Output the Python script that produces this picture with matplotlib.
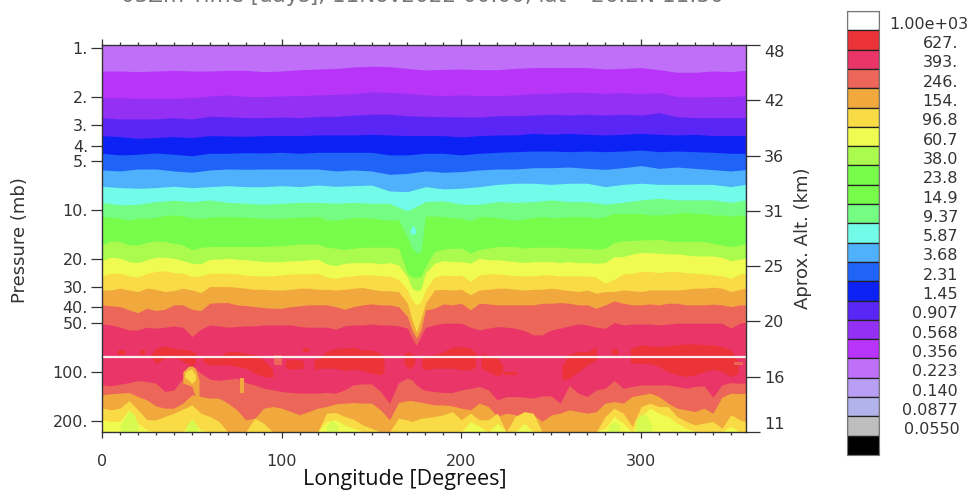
import numpy as np
import matplotlib
matplotlib.use("Agg")
import matplotlib.pyplot as plt

W, H = 970, 491

# longitude grids (deg) for the contour edges
LON_C = [0, 10, 20, 30, 40, 50, 60, 70, 80, 90, 100, 110, 120, 130, 140, 150, 160, 170, 180,
         190, 200, 210, 220, 230, 240, 250, 260, 270, 280, 290, 300, 310, 320, 330, 340, 350, 358]
LON_F = [0, 5, 10, 15, 20, 25, 30, 35, 40, 45, 50, 55, 60, 65, 70, 75, 80, 85, 90, 95, 100, 105, 110, 115, 120,
         125, 130, 135, 140, 145, 150, 155, 160, 165, 170,
         172.5, 175, 177.5,
         180, 185, 190, 195, 200, 205, 210, 215, 220, 225, 230, 235, 240,
         245, 250, 255, 260, 265, 270, 275, 280, 285, 290, 295, 300, 305, 310, 315, 320, 325, 330, 335, 340, 345,
         350, 355, 358]

# log10(pressure in mb) of each colour edge, top of the plot downwards
EDGE_01 = [.142, .142, .146, .142, .138, .142, .142, .138, .138, .146, .142, .134, .130, .126, .117, .113, .115, .126, .136,
           .132, .130, .134, .134, .126, .121, .121, .121, .121, .130, .126, .121, .134, .150, .150, .142, .146, .138]
EDGE_02 = [.307, .307, .311, .311, .311, .307, .296, .290, .300, .300, .296, .294, .290, .286, .282, .270, .274, .280, .290,
           .294, .290, .294, .294, .290, .282, .280, .274, .274, .280, .276, .282, .276, .300, .302, .300, .300, .294]
EDGE_03 = [.430, .438, .438, .438, .430, .438, .422, .424, .430, .430, .426, .430, .422, .422, .414, .409, .409, .418, .422,
           .424, .426, .426, .418, .418, .414, .409, .414, .409, .414, .409, .414, .399, .424, .430, .430, .430, .430]
EDGE_04 = [.541, .547, .558, .553, .547, .553, .541, .543, .545, .541, .541, .541, .537, .537, .537, .533, .537, .541, .541,
           .541, .549, .541, .537, .537, .527, .533, .527, .533, .537, .533, .527, .533, .537, .533, .541, .541, .541]
EDGE_05 = [.650, .660, .656, .648, .656, .665, .650, .650, .646, .648, .644, .650, .644, .644, .644, .644, .660, .660, .650,
           .650, .660, .650, .644, .640, .636, .636, .640, .636, .640, .636, .630, .640, .636, .640, .644, .650, .650]
EDGE_06 = [.753, .759, .747, .747, .759, .767, .753, .747, .749, .747, .747, .747, .747, .759, .753, .759, .780, .774, .759,
           .767, .763, .753, .747, .747, .739, .739, .735, .743, .749, .739, .726, .743, .735, .743, .751, .759, .751]
EDGE_07 = [.854, .862, .866, .862, .854, .862, .856, .850, .856, .856, .850, .856, .846, .854, .850, .846, .883, .887, .856,
           .870, .866, .856, .842, .835, .835, .842, .835, .835, .856, .842, .835, .842, .842, .842, .842, .856, .842]
EDGE_08 = [.953, .969, .965, .949, .940, .949, .938, .953, .959, .965, .959, .953, .953, .959, .953, .959, .959, 1.006, .949,
           .944, .965, .965, .949, .953, .949, .938, .949, .949, .965, .953, .938, .928, .938, .938, .938, .953, .938]
EDGE_09 = [1.041, 1.045, 1.051, 1.062, 1.051, 1.051, 1.045, 1.035, 1.031, 1.035, 1.051, 1.051, 1.045, 1.041, 1.041, 1.043,
           1.045, 1.047, 1.051, 1.055, 1.051, 1.047, 1.045, 1.043, 1.039,
           1.062, 1.062, 1.055, 1.047, 1.047, 1.049, 1.058, 1.062, 1.062, 1.167,
           1.235, 1.265, 1.259,
           1.037, 1.037, 1.041, 1.047, 1.051, 1.068, 1.041, 1.043, 1.047, 1.055, 1.062, 1.055, 1.047,
           1.041, 1.047, 1.047, 1.041, 1.041, 1.041, 1.051, 1.041, 1.021, 1.021, 1.021, 1.021, 1.031, 1.031, 1.027,
           1.021, 1.014, 1.021, 1.021, 1.031, 1.031, 1.039, 1.031, 1.035]
EDGE_10 = [1.216, 1.191, 1.195, 1.216, 1.216, 1.201, 1.191, 1.195, 1.206, 1.216, 1.247, 1.230, 1.226, 1.226, 1.226, 1.226,
           1.226, 1.226, 1.226, 1.222, 1.222, 1.216, 1.210, 1.210, 1.210,
           1.230, 1.236, 1.243, 1.236, 1.230, 1.230, 1.230, 1.230, 1.236, 1.391,
           1.415, 1.415, 1.411,
           1.350, 1.257, 1.243, 1.236, 1.236, 1.267, 1.243, 1.236, 1.226, 1.226, 1.226, 1.236, 1.230,
           1.230, 1.230, 1.230, 1.236, 1.236, 1.236, 1.243, 1.236, 1.201, 1.191, 1.189, 1.185, 1.185, 1.181, 1.191,
           1.195, 1.195, 1.195, 1.195, 1.206, 1.216, 1.226, 1.216, 1.210]
EDGE_11 = [1.313, 1.292, 1.298, 1.319, 1.325, 1.308, 1.292, 1.292, 1.298, 1.313, 1.329, 1.333, 1.304, 1.304, 1.298, 1.304,
           1.308, 1.313, 1.319, 1.319, 1.319, 1.313, 1.313, 1.308, 1.304,
           1.333, 1.345, 1.329, 1.325, 1.325, 1.325, 1.333, 1.325, 1.339, 1.415,
           1.483, 1.498, 1.490,
           1.391, 1.329, 1.313, 1.319, 1.319, 1.329, 1.298, 1.308, 1.308, 1.313, 1.319, 1.325, 1.319,
           1.319, 1.319, 1.325, 1.319, 1.325, 1.325, 1.329, 1.325, 1.288, 1.288, 1.271, 1.263, 1.263, 1.267, 1.271,
           1.271, 1.278, 1.284, 1.284, 1.284, 1.292, 1.313, 1.304, 1.298]
EDGE_12 = [1.407, 1.391, 1.391, 1.407, 1.415, 1.391, 1.380, 1.376, 1.387, 1.391, 1.411, 1.407, 1.391, 1.391, 1.391, 1.395,
           1.403, 1.407, 1.407, 1.407, 1.401, 1.395, 1.395, 1.395, 1.391,
           1.415, 1.422, 1.411, 1.407, 1.401, 1.401, 1.407, 1.407, 1.428, 1.494,
           1.555, 1.586, 1.566,
           1.494, 1.415, 1.401, 1.407, 1.401, 1.442, 1.401, 1.395, 1.395, 1.401, 1.407, 1.407, 1.407,
           1.401, 1.401, 1.407, 1.407, 1.407, 1.407, 1.415, 1.453, 1.428, 1.395, 1.391, 1.380, 1.380, 1.387, 1.380,
           1.380, 1.387, 1.391, 1.395, 1.401, 1.407, 1.422, 1.395, 1.391]
EDGE_13 = [1.494, 1.494, 1.483, 1.494, 1.504, 1.483, 1.490, 1.504, 1.498, 1.483, 1.494, 1.510, 1.473, 1.473, 1.473, 1.477,
           1.483, 1.490, 1.490, 1.494, 1.494, 1.490, 1.483, 1.483, 1.490,
           1.490, 1.494, 1.490, 1.483, 1.479, 1.490, 1.498, 1.498, 1.504, 1.576,
           1.679, 1.755, 1.669,
           1.576, 1.494, 1.490, 1.494, 1.490, 1.524, 1.494, 1.490, 1.483, 1.483, 1.490, 1.494, 1.490,
           1.490, 1.483, 1.490, 1.498, 1.504, 1.494, 1.514, 1.504, 1.504, 1.494, 1.498, 1.504, 1.494, 1.494, 1.494,
           1.494, 1.490, 1.483, 1.483, 1.477, 1.483, 1.504, 1.490, 1.483]
EDGE_14 = [1.586, 1.592, 1.597, 1.617, 1.634, 1.607, 1.621, 1.613, 1.586, 1.586, 1.613, 1.621, 1.576, 1.572, 1.572, 1.586,
           1.590, 1.597, 1.603, 1.607, 1.607, 1.597, 1.592, 1.586, 1.586,
           1.586, 1.597, 1.613, 1.597, 1.586, 1.580, 1.586, 1.586, 1.597, 1.658,
           1.741, 1.790, 1.741,
           1.617, 1.607, 1.580, 1.586, 1.576, 1.617, 1.576, 1.580, 1.586, 1.586, 1.586, 1.586, 1.586,
           1.576, 1.576, 1.572, 1.576, 1.586, 1.586, 1.607, 1.586, 1.562, 1.576, 1.586, 1.586, 1.580, 1.586, 1.576,
           1.576, 1.586, 1.586, 1.586, 1.582, 1.586, 1.597, 1.586, 1.586]
EDGE_15 = [1.704, 1.710, 1.724, 1.741, 1.741, 1.724, 1.730, 1.724, 1.716, 1.724, 1.782, 1.736, 1.710, 1.716, 1.724, 1.720,
           1.716, 1.716, 1.710, 1.710, 1.710, 1.710, 1.720, 1.724, 1.724,
           1.724, 1.736, 1.716, 1.710, 1.710, 1.704, 1.710, 1.710, 1.716, 1.730,
           1.792, 1.835, 1.782,
           1.724, 1.710, 1.699, 1.699, 1.699, 1.724, 1.741, 1.730, 1.720, 1.724, 1.730, 1.745, 1.771,
           1.771, 1.741, 1.730, 1.716, 1.704, 1.710, 1.724, 1.730, 1.695, 1.710, 1.704, 1.704, 1.704, 1.710, 1.704,
           1.699, 1.699, 1.699, 1.699, 1.699, 1.699, 1.730, 1.699, 1.695]
EDGE_16 = [2.080, 2.086, 2.076, 2.066, 2.053, 2.059, 2.070, 2.121, 2.111, 2.039, 1.963, 2.008, 2.045, 2.053, 2.045, 2.039,
           2.066, 2.080, 2.101, 2.111, 2.121, 2.127, 2.131, 2.131, 2.131,
           2.127, 2.131, 2.111, 2.080, 2.074, 2.074, 2.121, 2.193, 2.066, 2.039,
           2.049, 2.080, 2.101,
           2.115, 2.121, 2.127, 2.127, 2.111, 2.101, 2.090, 2.111, 2.173, 2.152, 2.152, 2.156, 2.162,
           2.148, 2.148, 2.193, 2.084, 2.131, 2.152, 2.111, 2.101, 2.053, 2.101, 2.090, 2.080, 2.080, 2.080, 2.080,
           2.090, 2.101, 2.090, 2.086, 2.156, 2.080, 2.066, 2.070, 2.070]
EDGE_17 = [2.142, 2.135, 2.131, 2.127, 2.152, 2.173, 2.210, 2.224, 2.224, 2.193, 2.142, 2.152, 2.162, 2.162, 2.193, 2.234,
           2.296, 2.286, 2.224, 2.214, 2.224, 2.245, 2.265, 2.245, 2.224,
           2.214, 2.197, 2.193, 2.189, 2.193, 2.193, 2.234, 2.296, 2.189, 2.177,
           2.177, 2.183, 2.187,
           2.193, 2.204, 2.204, 2.210, 2.224, 2.234, 2.193, 2.214, 2.275, 2.255, 2.265, 2.275, 2.265,
           2.306, 2.265, 2.255, 2.234, 2.245, 2.255, 2.245, 2.193, 2.183, 2.193, 2.152, 2.142, 2.131, 2.152, 2.193,
           2.224, 2.234, 2.245, 2.224, 2.255, 2.156, 2.131, 2.135, 2.131]
EDGE_18 = [2.224, 2.234, 2.224, 2.177, 2.234, 2.296, 2.296, 2.275, 2.255, 2.230, 2.204, 2.255, 2.275, 2.306, 2.37, 2.37,
           2.37, 2.286, 2.317, 2.37, 2.37, 2.37, 2.37, 2.37, 2.37,
           2.255, 2.251, 2.275, 2.292, 2.327, 2.348, 2.37, 2.37, 2.286, 2.296,
           2.306, 2.296, 2.286,
           2.283, 2.275, 2.265, 2.245, 2.296, 2.255, 2.296, 2.296, 2.255, 2.37, 2.275, 2.245, 2.255,
           2.37, 2.37, 2.37, 2.37, 2.37, 2.37, 2.37, 2.275, 2.224, 2.255, 2.337, 2.214, 2.193, 2.214, 2.214,
           2.275, 2.306, 2.327, 2.317, 2.306, 2.348, 2.265, 2.296, 2.306]
EDGE_19 = [2.296, 2.306, 2.306, 2.234, 2.317, 2.358, 2.37, 2.37, 2.37, 2.37, 2.296, 2.358, 2.37, 2.37, 2.37, 2.37,
           2.37, 2.37, 2.37, 2.37, 2.37, 2.37, 2.37, 2.37, 2.37,
           2.306, 2.296, 2.327, 2.348, 2.37, 2.37, 2.37, 2.37, 2.37, 2.37,
           2.37, 2.37, 2.37,
           2.37, 2.37, 2.37, 2.37, 2.37, 2.306, 2.337, 2.37, 2.317, 2.37, 2.37, 2.317, 2.37,
           2.37, 2.37, 2.37, 2.37, 2.37, 2.37, 2.37, 2.348, 2.275, 2.317, 2.37, 2.275, 2.224, 2.255, 2.275,
           2.317, 2.348, 2.368, 2.37, 2.37, 2.37, 2.337, 2.37, 2.37]

# colour scale: top box downwards
CB_COLORS = ["#ffffff", "#ec3338", "#ea3568", "#ec665a", "#f1a93d", "#f9db45", "#effb50", "#abfb4e", "#77fc4c",
             "#77fc4c", "#75fc83", "#72fbe8", "#4fb0fb", "#1f63f7", "#0c22f5", "#5a26f5", "#9330f3", "#b734f8",
             "#bf6ff8", "#b89ef5", "#b3b3ec", "#bebebe", "#000000"]
CB_LABELS = ["1.00e+03", "627.", "393.", "246.", "154.", "96.8", "60.7", "38.0", "23.8", "14.9", "9.37", "5.87",
             "3.68", "2.31", "1.45", "0.907", "0.568", "0.356", "0.223", "0.140", "0.0877", "0.0550"]
RED, CRIMSON, SALMON, ORANGE, GOLD, YELLOW, YGREEN = CB_COLORS[1:8]
GREEN, PALE, CYAN, LBLUE, ROYAL, BLUE, INDIGO, PURPLE, MAGENTA, LILAC = CB_COLORS[9:19]
POCKET_COLOR = "#d6fa50"

# (edge, grid, colour below that edge)
BANDS = [(EDGE_01, LON_C, MAGENTA), (EDGE_02, LON_C, PURPLE), (EDGE_03, LON_C, INDIGO), (EDGE_04, LON_C, BLUE),
         (EDGE_05, LON_C, ROYAL), (EDGE_06, LON_C, LBLUE), (EDGE_07, LON_C, CYAN), (EDGE_08, LON_C, PALE),
         (EDGE_09, LON_F, GREEN), (EDGE_10, LON_F, YGREEN), (EDGE_11, LON_F, YELLOW), (EDGE_12, LON_F, GOLD),
         (EDGE_13, LON_F, ORANGE), (EDGE_14, LON_F, SALMON), (EDGE_15, LON_F, CRIMSON), (EDGE_16, LON_F, SALMON),
         (EDGE_17, LON_F, ORANGE), (EDGE_18, LON_F, GOLD), (EDGE_19, LON_F, YELLOW)]

# closed contours: lon, log10 p upper edge, log10 p lower edge
ISLANDS_RED = [
    ([9, 13], [1.864, 1.864], [1.895, 1.895]),
    ([21, 24], [1.864, 1.864], [1.895, 1.895]),
    ([27, 30, 35, 40, 45, 50, 52], [1.895, 1.854, 1.839, 1.854, 1.860, 1.868, 1.885],
     [1.905, 1.950, 1.915, 1.905, 1.936, 1.963, 1.946]),
    ([56, 60, 65, 70, 75, 80, 85, 90, 95], [1.905, 1.895, 1.905, 1.874, 1.874, 1.885, 1.895, 1.926, 1.987],
     [1.936, 1.957, 1.957, 1.957, 1.967, 1.977, 2.008, 2.029, 2.033]),
    ([102, 107, 112], [1.930, 1.922, 1.930], [1.977, 1.983, 1.977]),
    ([112, 115], [1.854, 1.854], [1.874, 1.874]),
    ([118, 121, 125, 130, 135, 140, 145, 150, 155, 157],
     [1.926, 1.915, 1.874, 1.854, 1.854, 1.848, 1.864, 1.864, 1.885, 1.926],
     [1.987, 1.977, 1.977, 1.977, 1.992, 1.983, 1.992, 2.008, 2.018, 1.998]),
    ([168, 170, 172, 174], [1.895, 1.874, 1.885, 1.905], [1.946, 1.977, 1.977, 1.946]),
    ([178, 182, 185, 190, 195, 200, 205, 208], [1.915, 1.895, 1.895, 1.874, 1.848, 1.843, 1.854, 1.885],
     [1.977, 1.987, 1.977, 1.977, 1.977, 1.987, 1.987, 1.967]),
    ([211, 215, 220, 223], [1.885, 1.895, 1.915, 1.957], [1.977, 1.998, 2.025, 2.008]),
    ([224, 231], [1.998, 1.998], [2.018, 2.018]),
    ([256, 260, 265, 270, 275], [1.963, 1.889, 1.874, 1.874, 1.843], [2.049, 2.039, 1.998, 1.957, 1.926]),
    ([284, 287], [1.860, 1.860], [1.895, 1.895]),
    ([294, 300, 305, 310, 315, 320, 325, 330, 335, 340, 345, 350, 354],
     [1.854, 1.833, 1.839, 1.843, 1.839, 1.833, 1.827, 1.827, 1.833, 1.833, 1.843, 1.864, 1.936],
     [1.946, 1.946, 1.950, 1.967, 1.998, 2.018, 2.029, 2.018, 1.998, 1.983, 1.998, 2.029, 2.008]),
]
ISLANDS_SALMON = [([96, 100], [1.895, 1.895], [1.957, 1.957]), ([352, 357], [1.936, 1.936], [1.957, 1.957])]
ISLANDS_ORANGE = [([45, 48, 50, 52, 54], [1.998, 1.967, 1.963, 1.977, 2.049], [2.070, 2.080, 2.090, 2.152, 2.169]),
                  ([77, 79], [2.039, 2.039], [2.131, 2.131])]
ISLANDS_GOLD = [([46, 48, 50, 52], [2.008, 1.987, 1.983, 2.018], [2.033, 2.049, 2.070, 2.049])]
ISLANDS_CYAN = [([171.5, 173, 174.5], [1.120, 1.093, 1.120], [1.140, 1.154, 1.140])]
# yellow-green pockets reaching the bottom of the plot
POCKET_LON = [[10, 12, 15, 18, 20], [47, 50, 53], [125, 128, 131], [282, 285, 288], [297, 300, 303, 306]]
POCKET_TOP = [[2.337, 2.296, 2.238, 2.265, 2.327], [2.33, 2.29, 2.33], [2.33, 2.30, 2.33], [2.33, 2.306, 2.33],
              [2.30, 2.26, 2.27, 2.33]]

PRESS_TICKS = [1, 2, 3, 4, 5, 10, 20, 30, 40, 50, 100, 200]
ALT_LABELS = ["11", "16", "20", "25", "31", "36", "42", "48"]
LON_TICKS = [0, 100, 200, 300]
WHITE_LINE_P = 80.8
P_TOP, P_BOT = 0.958, 235.0
TEXT_COL = "#333333"

plt.rcParams["font.family"] = "DejaVu Sans"


def px_axes(left, top, right, bottom):
    return [left / W, 1 - bottom / H, (right - left) / W, (bottom - top) / H]


fig = plt.figure(figsize=(W / 100, H / 100), dpi=100)
ax = fig.add_axes(px_axes(102, 45, 746, 432))
ax.set_yscale("log")

ax.axhspan(P_TOP, P_BOT, color=LILAC, lw=0)
for edge, lon, col in BANDS:
    ax.fill_between(lon, 10 ** np.array(edge), P_BOT, color=col, lw=0)


def islands(items, col):
    for lon, upper, lower in items:
        ax.fill_between(lon, 10 ** np.array(upper), 10 ** np.array(lower), color=col, lw=0)


islands(ISLANDS_RED, RED)
islands(ISLANDS_SALMON, SALMON)
islands(ISLANDS_ORANGE, ORANGE)
islands(ISLANDS_GOLD, GOLD)
islands(ISLANDS_CYAN, CYAN)
for lon, top in zip(POCKET_LON, POCKET_TOP):
    ax.fill_between(lon, 10 ** np.array(top), P_BOT, color=POCKET_COLOR, lw=0)

ax.axhline(WHITE_LINE_P, color="#fbeef0", lw=1.6, clip_on=False)

ax.set_xlim(0, 358.4)
ax.set_ylim(P_BOT, P_TOP)
ax.set_xticks(LON_TICKS)
ax.set_xticks(np.arange(0, 358, 10), minor=True)
ax.set_yticks(PRESS_TICKS)
ax.set_yticklabels([f"{p}." for p in PRESS_TICKS])
ax.yaxis.set_minor_locator(matplotlib.ticker.NullLocator())
ax.tick_params(axis="x", which="major", top=True, length=4.5, width=0.9, color=TEXT_COL, labelsize=11.5,
               labelcolor=TEXT_COL, pad=11)
ax.tick_params(axis="x", which="minor", top=True, length=2.4, width=0.9, color=TEXT_COL)
ax.tick_params(axis="y", which="major", length=8, width=0.9, color=TEXT_COL, labelsize=11.5,
               labelcolor=TEXT_COL, pad=2)
for s in ax.spines.values():
    s.set_color(TEXT_COL)
    s.set_linewidth(1.0)

alt = ax.twinx()
alt.set_ylim(0, len(ALT_LABELS) - 1)
alt.set_yticks(range(len(ALT_LABELS)))
alt.set_yticklabels(ALT_LABELS)
alt.tick_params(axis="y", length=10, width=0.9, color=TEXT_COL, labelsize=11.5, labelcolor=TEXT_COL, pad=3)
# end labels sit inside the tick range
alt.get_yticklabels()[0].set_va("bottom")
alt.get_yticklabels()[-1].set_va("top")
for s in alt.spines.values():
    s.set_visible(False)

fig.text(20 / W, 1 - 240 / H, "Pressure (mb)", rotation=90, ha="center", va="center", fontsize=13, color=TEXT_COL)
fig.text(803 / W, 1 - 238 / H, "Aprox. Alt. (km)", rotation=90, ha="center", va="center", fontsize=13,
         color=TEXT_COL)
fig.text(405 / W, 1 - 480 / H, "Longitude [Degrees]", ha="center", va="center", fontsize=15.5, color="#111111",
         family="Open Sans")
fig.text(422 / W, 1 - 2.5 / H, "03Zm Time [days], 11Nov2022 00:00, lat= 26.2N 11:30", ha="center", va="baseline",
         fontsize=15.5, color="#777777")

cb = fig.add_axes(px_axes(847, 11, 879, 455))
cb.barh(np.arange(len(CB_COLORS)) + 0.5, 1, height=1, color=CB_COLORS, edgecolor="#222222", lw=0.9)
cb.set_xlim(0, 1)
cb.set_ylim(len(CB_COLORS), 0)
cb.set_xticks([])
cb.set_yticks([])
for s in cb.spines.values():
    s.set_color("#777777")
for i, lab in enumerate(CB_LABELS):
    right = 89 if i == 0 else (81 if lab == "0.0550" else 79)
    cb.annotate(lab, xy=(1, i + 1), xytext=(right, 6), xycoords="data", textcoords="offset pixels", ha="right",
                va="center", fontsize=11.5, color=TEXT_COL, annotation_clip=False)

fig.savefig("out.png", dpi=100)
